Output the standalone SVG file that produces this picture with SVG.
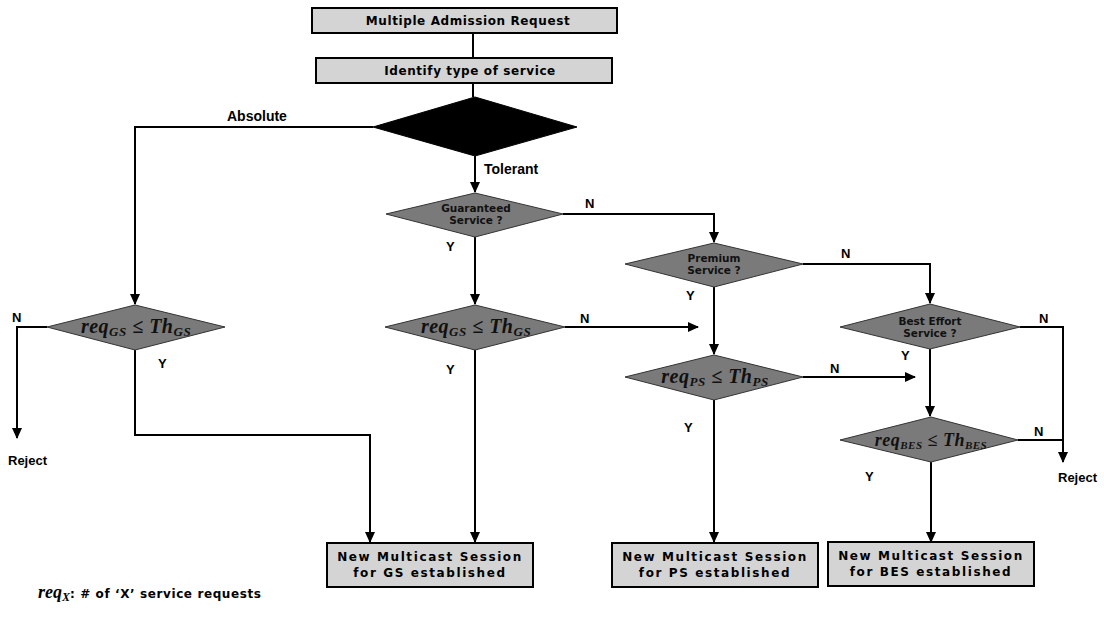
<svg xmlns="http://www.w3.org/2000/svg" width="1104" height="625" viewBox="0 0 1104 625">
<style>
.box{fill:#d4d4d4;stroke:#000;stroke-width:2}
.dia{fill:#7a7a7a;stroke:#333;stroke-width:1}
.blk{fill:#000;stroke:#000}
.c{fill:none;stroke:#000;stroke-width:2}
.lb{font-family:"Liberation Sans",Arial,sans-serif;font-weight:bold;font-size:13px;fill:#000}
.bt{font-family:"DejaVu Sans",Verdana,sans-serif;font-weight:bold;font-size:12px;fill:#000;text-anchor:middle;letter-spacing:1.6px}
.dt{font-family:"DejaVu Sans",Verdana,sans-serif;font-weight:bold;font-size:10.5px;fill:#111;text-anchor:middle}
.m{font-family:"Liberation Serif","Times New Roman",serif;font-weight:bold;font-style:italic;font-size:20px;fill:#111;text-anchor:middle;letter-spacing:0.5px}
.ms{font-size:13px}
</style>
<defs>
<marker id="ah" markerWidth="12" markerHeight="12" refX="10" refY="5" orient="auto" markerUnits="userSpaceOnUse">
<path d="M0,0 L11,5 L0,10 Z" fill="#000"/>
</marker>
</defs>
<g id="connectors">
<path class="c" d="M473,33 V58"/>
<path class="c" d="M473,83 V97"/>
<path class="c" d="M373,127 H135 V304" marker-end="url(#ah)"/>
<path class="c" d="M475,156 V192" marker-end="url(#ah)"/>
<path class="c" d="M563,214 H714 V242" marker-end="url(#ah)"/>
<path class="c" d="M475,237 V304" marker-end="url(#ah)"/>
<path class="c" d="M803,264 H930 V303" marker-end="url(#ah)"/>
<path class="c" d="M714,287 V354" marker-end="url(#ah)"/>
<path class="c" d="M1020,327 H1063 V462" marker-end="url(#ah)"/>
<path class="c" d="M930,349 V416" marker-end="url(#ah)"/>
<path class="c" d="M47,327 H17 V438" marker-end="url(#ah)"/>
<path class="c" d="M135,350 V435 H370 V542" marker-end="url(#ah)"/>
<path class="c" d="M565,327 H698" marker-end="url(#ah)"/>
<path class="c" d="M475,350 V542" marker-end="url(#ah)"/>
<path class="c" d="M803,377 H915" marker-end="url(#ah)"/>
<path class="c" d="M714,400 V542" marker-end="url(#ah)"/>
<path class="c" d="M1018,440 H1063"/>
<path class="c" d="M931,462 V542" marker-end="url(#ah)"/>
</g>
<g id="request">
<rect class="box" x="312" y="8" width="305" height="25"/>
<text class="bt" x="468" y="25" style="letter-spacing:0.6px">Multiple Admission Request</text>
</g>
<g id="identify">
<rect class="box" x="316" y="58" width="296" height="25"/>
<text class="bt" x="470" y="75" style="letter-spacing:0.6px">Identify type of service</text>
</g>
<g id="type">
<polygon class="blk" points="475,97 577,127 475,156 373,127"/>
</g>
<g id="guaranteed">
<polygon class="dia" points="475,193 563,214 475,237 386,214"/>
<text class="dt" x="476" y="212">Guaranteed</text>
<text class="dt" x="476" y="224">Service ?</text>
</g>
<g id="premium">
<polygon class="dia" points="714,243 803,264 714,287 625,264"/>
<text class="dt" x="714" y="262">Premium</text>
<text class="dt" x="714" y="274">Service ?</text>
</g>
<g id="besteffort">
<polygon class="dia" points="930,304 1020,327 930,349 840,327"/>
<text class="dt" x="930" y="325">Best Effort</text>
<text class="dt" x="930" y="337">Service ?</text>
</g>
<g id="gs-abs">
<polygon class="dia" points="135,305 225,327 135,350 47,327"/>
<text class="m" x="136" y="333">req<tspan class="ms" dy="3">GS</tspan><tspan dy="-3"> ≤ Th</tspan><tspan class="ms" dy="3">GS</tspan></text>
</g>
<g id="gs-tol">
<polygon class="dia" points="475,305 565,327 475,350 385,327"/>
<text class="m" x="476" y="333">req<tspan class="ms" dy="3">GS</tspan><tspan dy="-3"> ≤ Th</tspan><tspan class="ms" dy="3">GS</tspan></text>
</g>
<g id="ps-th">
<polygon class="dia" points="714,355 803,377 714,400 625,377"/>
<text class="m" x="715" y="383">req<tspan class="ms" dy="3">PS</tspan><tspan dy="-3"> ≤ Th</tspan><tspan class="ms" dy="3">PS</tspan></text>
</g>
<g id="bes-th">
<polygon class="dia" points="931,417 1018,440 931,462 840,440"/>
<text class="m" x="931" y="446" style="font-size:18px">req<tspan class="ms" dy="3" style="font-size:11px">BES</tspan><tspan dy="-3"> ≤ Th</tspan><tspan class="ms" dy="3" style="font-size:11px">BES</tspan></text>
</g>
<g id="gs-box">
<rect class="box" x="327" y="543" width="206" height="44"/>
<text class="bt" x="430" y="561">New Multicast Session</text>
<text class="bt" x="430" y="577">for GS established</text>
</g>
<g id="ps-box">
<rect class="box" x="612" y="543" width="206" height="44"/>
<text class="bt" x="715" y="561">New Multicast Session</text>
<text class="bt" x="715" y="577">for PS established</text>
</g>
<g id="bes-box">
<rect class="box" x="828" y="542" width="206" height="44"/>
<text class="bt" x="931" y="560">New Multicast Session</text>
<text class="bt" x="931" y="576">for BES established</text>
</g>
<g id="labels">
<text class="lb" x="227" y="121" style="font-size:14px">Absolute</text>
<text class="lb" x="484" y="174" style="font-size:14px">Tolerant</text>
<text class="lb" x="585" y="208">N</text>
<text class="lb" x="446" y="251">Y</text>
<text class="lb" x="841" y="258">N</text>
<text class="lb" x="686" y="300">Y</text>
<text class="lb" x="12" y="322">N</text>
<text class="lb" x="158" y="368">Y</text>
<text class="lb" x="580" y="323">N</text>
<text class="lb" x="446" y="374">Y</text>
<text class="lb" x="830" y="373">N</text>
<text class="lb" x="684" y="432">Y</text>
<text class="lb" x="901" y="360">Y</text>
<text class="lb" x="1039" y="323">N</text>
<text class="lb" x="1034" y="436">N</text>
<text class="lb" x="865" y="481">Y</text>
<text class="lb" x="8" y="465">Reject</text>
<text class="lb" x="1058" y="482">Reject</text>
</g>
<g id="legend">
<text x="38" y="598"><tspan style="font-family:'Liberation Serif',serif;font-weight:bold;font-style:italic;font-size:18px">req</tspan><tspan dy="3" style="font-family:'Liberation Serif',serif;font-weight:bold;font-style:italic;font-size:12px">X</tspan><tspan dy="-3" style="font-family:'DejaVu Sans',sans-serif;font-weight:bold;font-size:12px;letter-spacing:0.6px">: # of ‘X’ service requests</tspan></text>
</g>
</svg>
